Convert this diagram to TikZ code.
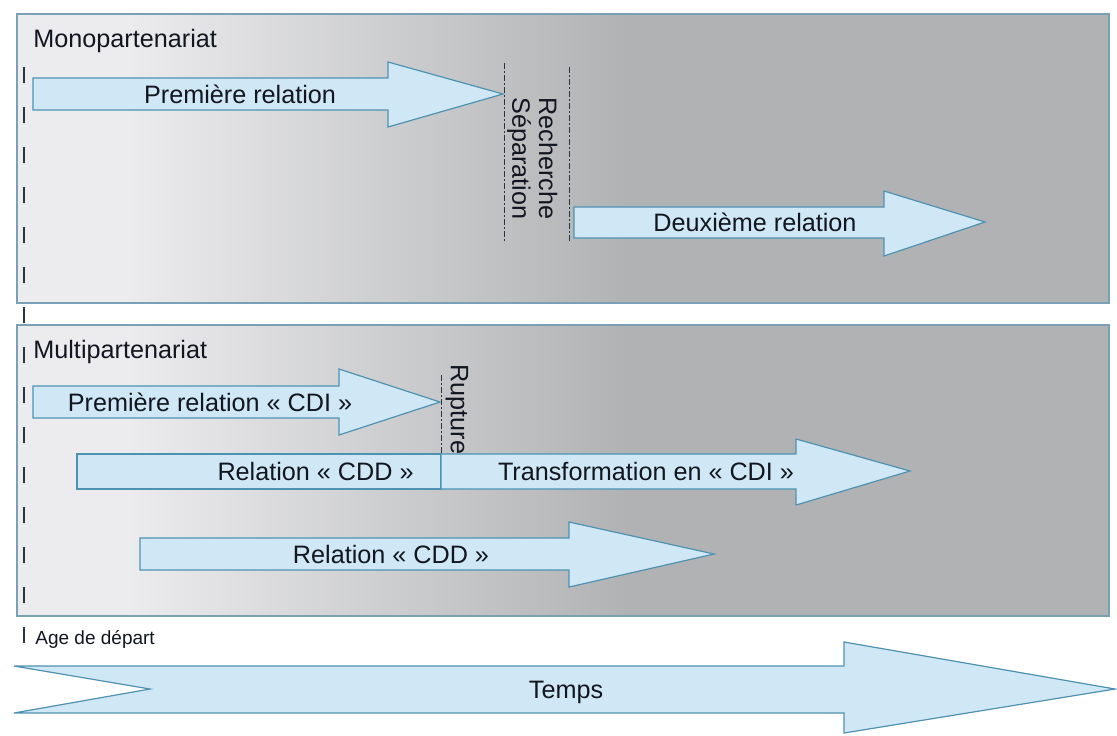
\documentclass[tikz,border=0pt]{standalone}
\usepackage{fontspec}
\setmainfont{Liberation Sans}
\usepackage{tikz}
\usetikzlibrary{positioning}
\definecolor{arrowfill}{RGB}{208,232,245}
\definecolor{arrowline}{RGB}{78,146,178}
\definecolor{panellight}{RGB}{236,236,238}
\definecolor{paneldark}{RGB}{177,178,180}
\definecolor{panelline}{RGB}{122,160,182}
\definecolor{labeltext}{RGB}{18,22,32}
\definecolor{markline}{RGB}{40,52,62}
\pgfdeclarehorizontalshading{panelshade}{100bp}{color(0bp)=(panellight); color(30bp)=(panellight); color(53bp)=(paneldark); color(100bp)=(paneldark)}
\tikzstyle{panel}=[draw=panelline, line width=0.6pt, shade, shading=panelshade]
\tikzstyle{block_arrow}=[fill=arrowfill, draw=arrowline, line width=0.6pt, line join=miter]
\tikzstyle{big_label}=[font=\fontsize{12.6}{15}\selectfont, text=labeltext, inner sep=0pt]
\tikzstyle{small_label}=[font=\fontsize{9.5}{11}\selectfont, text=labeltext, inner sep=0pt]
\tikzstyle{start_line}=[-, draw=markline, line width=0.75pt, dash pattern=on 8pt off 12pt]
\tikzstyle{event_line}=[-, draw=markline, line width=0.5pt, dash pattern=on 3pt off 1.2pt on 0.6pt off 1.2pt]

\begin{document}
\begin{tikzpicture}[x=0.5pt, y=-0.5pt]
        \useasboundingbox (0, 0) rectangle (1117, 735);
        \fill[white] (0, 0) rectangle (1117, 735);
        % the two panels
        \draw[style={panel}] (17, 14) rectangle (1109, 303);
        \draw[style={panel}] (17, 325) rectangle (1109, 616);
        \node [big_label, anchor=base west] (0) at (33, 47) {Monopartenariat};
        \node [big_label, anchor=base west] (1) at (33, 358) {Multipartenariat};
        % relations
        \draw[style={block_arrow}] (33, 78) -- (388, 78) -- (388, 62) -- (503, 94) -- (388, 127) -- (388, 110) -- (33, 110) -- cycle;
        \draw[style={block_arrow}] (574, 207) -- (884, 207) -- (884, 191) -- (985, 222) -- (884, 256) -- (884, 238) -- (574, 238) -- cycle;
        \draw[style={block_arrow}] (33, 386) -- (339, 386) -- (339, 369) -- (440, 402) -- (339, 435) -- (339, 418) -- (33, 418) -- cycle;
        \draw[style={block_arrow}] (77, 454) rectangle (441, 489);
        \draw[style={block_arrow}] (441, 454) -- (796, 454) -- (796, 439) -- (910, 471) -- (796, 505) -- (796, 489) -- (441, 489) -- cycle;
        \draw[style={block_arrow}] (140, 538) -- (569, 538) -- (569, 522) -- (714, 554) -- (569, 587) -- (569, 570) -- (140, 570) -- cycle;
        \draw[style={block_arrow}] (14, 666) -- (844, 666) -- (844, 642) -- (1115, 689) -- (844, 733) -- (844, 713) -- (14, 713) -- (150, 689) -- cycle;
        \node [big_label, anchor=base] (2) at (240, 103) {Première relation};
        \node [big_label, anchor=base] (3) at (755, 231) {Deuxième relation};
        \node [big_label, anchor=base] (4) at (210, 411) {Première relation « CDI »};
        \node [big_label, anchor=base east] (5) at (414, 480) {Relation « CDD »};
        \node [big_label, anchor=base] (6) at (646, 480) {Transformation en « CDI »};
        \node [big_label, anchor=base] (7) at (391, 563) {Relation « CDD »};
        \node [big_label, anchor=base] (8) at (566, 698) {Temps};
        % events
        \node [big_label, rotate=-90, anchor=west] (9) at (519, 97) {Séparation};
        \node [big_label, rotate=-90, anchor=west] (10) at (548, 97) {Recherche};
        \node [big_label, rotate=-90, anchor=west] (11) at (457, 364) {Rupture};
        \coordinate (12) at (504, 63);
        \coordinate (13) at (504, 243);
        \coordinate (14) at (569, 67);
        \coordinate (15) at (569, 243);
        \coordinate (16) at (441, 375);
        \coordinate (17) at (441, 454);
        \draw[style={event_line}]{} (12) to (13);
        \draw[style={event_line}]{} (14) to (15);
        \draw[style={event_line}]{} (16) to (17);
        % start age
        \coordinate (18) at (24, 67);
        \coordinate (19) at (24, 643);
        \draw[style={start_line}]{} (18) to (19);
        \node [small_label, anchor=base west] (20) at (35, 644) {Age de départ};
    \end{tikzpicture}
\end{document}
